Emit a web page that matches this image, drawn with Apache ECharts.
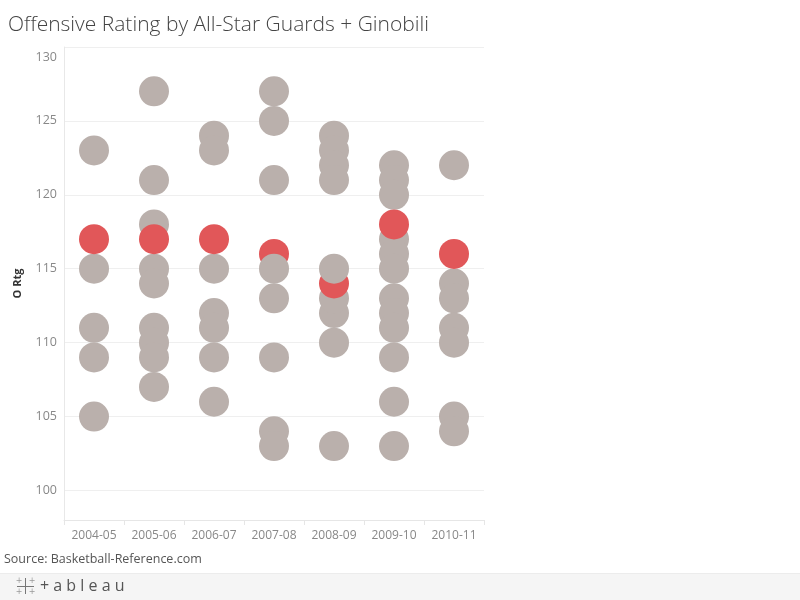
<!DOCTYPE html>
<html>
<head>
<meta charset="utf-8">
<script src="https://cdn.jsdelivr.net/npm/echarts@6/dist/echarts.min.js"></script>
<style>html,body{margin:0;padding:0;background:#fff;}#chart{width:800px;height:600px;}</style>
</head>
<body>
<div id="chart"></div>
<script>
// Seasons (x categories)
const seasons = ['2004-05', '2005-06', '2006-07', '2007-08', '2008-09', '2009-10', '2010-11'];
// Offensive ratings per season (in drawing order)
const ortg0405 = [123, 115, 111, 109, 105, 117];
const ortg0506 = [127, 121, 118, 115, 114, 111, 110, 109, 107, 117];
const ortg0607 = [124, 123, 115, 112, 111, 109, 106, 117];
const ortg0708 = [127, 125, 121, 104, 103, 109, 113, 116, 115];
const ortg0809 = [124, 123, 122, 121, 112, 110, 103, 113, 114, 115];
const ortg0910 = [122, 121, 120, 117, 116, 115, 113, 112, 111, 109, 106, 103, 118];
const ortg1011 = [122, 114, 113, 111, 110, 105, 104, 116];
// Highlighted (Ginobili) rating per season
const highlighted = [117, 117, 117, 116, 114, 118, 116];
// Y tick labels
const yTicks = [100, 105, 110, 115, 120, 125, 130];

const perSeason = [ortg0405, ortg0506, ortg0607, ortg0708, ortg0809, ortg0910, ortg1011];
const GREY = '#bab0ac', RED = '#e15759';
const FONT = 'Open Sans';
const data = [];
perSeason.forEach((vals, i) => {
  vals.forEach(v => {
    data.push({ value: [i, v], itemStyle: { color: v === highlighted[i] ? RED : GREY } });
  });
});

const chart = echarts.init(document.getElementById('chart'), null, { renderer: 'canvas' });
chart.setOption({
  animation: false,
  title: {
    text: 'Offensive Rating by All-Star Guards + Ginobili',
    left: 3, top: 10,
    textStyle: { fontFamily: FONT, fontSize: 21, fontWeight: 300, color: '#444' }
  },
  grid: { left: 64, top: 47, width: 420, height: 473 },
  xAxis: {
    type: 'category',
    data: seasons,
    boundaryGap: true,
    axisLine: { show: true, lineStyle: { color: '#e6e6e6' } },
    axisTick: { show: true, length: 5, interval: 0, lineStyle: { color: '#e6e6e6' } },
    axisLabel: { color: '#888', fontSize: 12, fontFamily: FONT, margin: 10, interval: 0 },
    splitLine: { show: false }
  },
  yAxis: {
    type: 'value',
    min: 98, max: 130, splitNumber: 6,
    name: 'O Rtg',
    nameLocation: 'middle',
    nameRotate: 90,
    nameGap: 41,
    nameTextStyle: { color: '#333', fontSize: 11, fontWeight: 'bold', fontFamily: FONT },
    axisLine: { show: true, lineStyle: { color: '#e8e8e8' } },
    axisTick: { show: false },
    axisLabel: {
      color: '#888', fontSize: 12.5, fontFamily: FONT, margin: 7,
      showMinLabel: false,
      formatter: v => {
        if (yTicks.indexOf(v) < 0) return '';
        return v === 130 ? '{top|' + v + '}' : String(v);
      },
      rich: { top: { color: '#888', fontSize: 12.5, fontFamily: FONT, padding: [20, 0, 0, 0] } }
    },
    splitLine: { show: true, lineStyle: { color: '#efefef' } }
  },
  series: [{
    type: 'scatter',
    symbol: 'circle',
    symbolSize: 30,
    data: data,
    itemStyle: { opacity: 1 }
  }],
  graphic: [
    { type: 'text', left: 4, top: 553, style: { text: 'Source: Basketball-Reference.com', fill: '#555', font: '12.5px "Open Sans"' } },
    { type: 'rect', left: 0, top: 573, shape: { width: 800, height: 27 }, style: { fill: '#f5f5f5' } },
    { type: 'line', shape: { x1: 0, y1: 573.5, x2: 800, y2: 573.5 }, style: { stroke: '#ececec', lineWidth: 1 } },
    { type: 'line', shape: { x1: 25.5, y1: 578, x2: 25.5, y2: 594 }, style: { stroke: '#777', lineWidth: 1 } },
    { type: 'line', shape: { x1: 17, y1: 586.5, x2: 34, y2: 586.5 }, style: { stroke: '#777', lineWidth: 1 } },
    { type: 'text', x: 19, y: 581, style: { text: '+', fill: '#999', font: '8px DejaVu Sans', align: 'center', verticalAlign: 'middle' } },
    { type: 'text', x: 32, y: 581, style: { text: '+', fill: '#999', font: '8px DejaVu Sans', align: 'center', verticalAlign: 'middle' } },
    { type: 'text', x: 19, y: 592, style: { text: '+', fill: '#999', font: '8px DejaVu Sans', align: 'center', verticalAlign: 'middle' } },
    { type: 'text', x: 32, y: 592, style: { text: '+', fill: '#999', font: '8px DejaVu Sans', align: 'center', verticalAlign: 'middle' } },
    { type: 'text', x: 40, y: 586, style: { text: '+ a b l e a u', fill: '#555', font: '16px "Open Sans"', verticalAlign: 'middle' } }
  ]
});
</script>
</body>
</html>
